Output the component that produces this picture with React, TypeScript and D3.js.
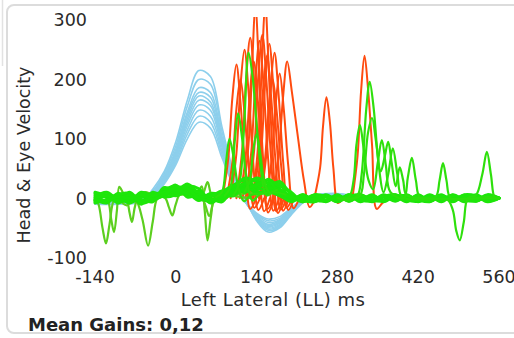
import React, { useEffect, useRef } from 'react'
import * as d3 from 'd3'

type Pt = [number, number]

// head velocity sampling times (ms)
const headT = [-140, -100, -60, -40, -20, 0, 20, 40, 60, 80, 100, 120, 140, 160, 180, 200, 220, 240, 280, 320, 360, 560]

// head impulses (blue)
const headTraces = [
  [-10, -10, -6, 15, 45, 95, 165, 215, 205, 120, 45, 0, -38, -57, -50, -28, -8, 4, 8, 2, 0, 0],
  [-9, -9, -5, 12, 42, 88, 155, 200, 192, 112, 40, -2, -36, -54, -48, -26, -6, 4, 7, 2, 0, 0],
  [-8, -8, -5, 10, 38, 82, 145, 186, 178, 104, 36, -3, -34, -52, -46, -25, -6, 3, 6, 1, 0, 0],
  [-8, -8, -4, 10, 36, 78, 140, 178, 170, 98, 34, -4, -33, -50, -44, -24, -5, 3, 6, 1, 0, 0],
  [-7, -7, -4, 8, 34, 75, 134, 172, 162, 94, 32, -5, -32, -48, -42, -22, -5, 4, 7, 2, 0, 0],
  [-7, -7, -3, 8, 32, 72, 128, 165, 156, 90, 30, -5, -31, -46, -40, -21, -4, 3, 6, 1, 0, 0],
  [-6, -6, -3, 7, 30, 68, 122, 157, 148, 86, 28, -6, -30, -44, -38, -20, -4, 3, 5, 1, 0, 0],
  [-6, -6, -3, 6, 28, 64, 115, 148, 138, 80, 26, -6, -28, -41, -36, -18, -3, 2, 5, 1, 0, 0],
  [-5, -5, -2, 5, 26, 60, 108, 138, 128, 74, 24, -6, -27, -38, -34, -17, -3, 2, 4, 1, 0, 0],
  [-5, -5, -2, 4, 24, 56, 100, 128, 118, 68, 22, -5, -25, -35, -31, -16, -3, 2, 4, 1, 0, 0],
]

// covert / overt saccades (orange)
const saccadeTraces: Pt[][] = [
  [[81, 0], [91, 68], [98, 169], [105, 225], [112, 162], [120, 56], [129, -18], [139, 0]],
  [[88, 0], [98, 60], [105, 150], [112, 200], [119, 144], [127, 50], [136, -16], [146, 0]],
  [[95, 0], [105, 75], [112, 188], [119, 250], [126, 180], [134, 62], [143, -20], [153, 0]],
  [[105, 0], [115, 81], [122, 203], [129, 270], [136, 194], [144, 68], [153, -22], [163, 0]],
  [[111, 0], [121, 69], [128, 172], [135, 230], [142, 166], [150, 58], [159, -18], [169, 0]],
  [[116, 0], [126, 90], [133, 240], [138, 330], [143, 240], [151, 70], [160, -24], [170, 0]],
  [[121, 0], [131, 80], [138, 199], [145, 265], [152, 191], [160, 66], [169, -21], [179, 0]],
  [[126, 0], [136, 83], [143, 206], [150, 275], [157, 198], [165, 69], [174, -22], [184, 0]],
  [[134, 0], [143, 95], [150, 245], [155, 330], [160, 240], [168, 72], [177, -25], [187, 0]],
  [[134, 0], [144, 72], [151, 180], [158, 240], [165, 173], [173, 60], [182, -19], [192, 0]],
  [[138, 0], [148, 78], [155, 195], [162, 260], [169, 187], [177, 65], [186, -21], [196, 0]],
  [[144, 0], [154, 60], [161, 150], [168, 200], [175, 144], [183, 50], [192, -16], [202, 0]],
  [[147, 0], [157, 74], [164, 184], [171, 245], [178, 176], [186, 61], [195, -20], [205, 0]],
  [[156, 0], [166, 63], [173, 158], [180, 210], [187, 151], [195, 53], [204, -17], [214, 0]],
  [[168, 0], [178, 70], [186, 172], [193, 230], [201, 180], [212, 100], [222, 30], [232, -15], [242, 0]],
  [[240, 0], [250, 51], [255, 120], [261, 170], [267, 128], [273, 51], [281, -8], [290, 0]],
  [[306, 0], [315, 72], [321, 180], [327, 240], [333, 185], [340, 90], [348, -18], [358, -8], [368, 0]],
]

// eye velocity sampling times (ms)
const eyeT = [-140, -120, -100, -80, -60, -40, -20, 0, 20, 40, 60, 80, 100, 120, 140, 160, 180, 200, 220, 240, 260, 280, 300, 320, 340, 360, 380, 400, 420, 440, 460, 480, 500, 520, 540, 560]

// eye velocity, traces staying near zero (green band)
const eyeBand = [
  [5, -6, 8, -4, 6, 2, 12, 8, 18, 4, -6, 10, 22, 30, 18, 12, 4, -4, 5, -5, 6, -3, 5, -6, 3, -5, 6, -3, 5, -5, 3, -6, 5, -3, 4, 0],
  [-4, 6, -8, 5, -5, 8, 4, 16, 10, -4, 6, -2, 12, 18, 34, 24, 10, 2, -6, 4, -3, 6, -5, 3, -6, 5, -3, 6, -5, 3, -6, 5, -3, 6, -3, 0],
  [8, 2, -4, 10, -8, -2, 14, 20, 6, 12, -8, 4, 8, 26, 14, 32, 16, -2, 6, -6, 4, -5, 3, -3, 6, -6, 4, -5, 3, -3, 6, -5, 3, -5, 4, 0],
  [-8, -2, 4, -6, 10, 4, 6, 10, 24, 8, 0, -6, 16, 10, 24, 20, 28, 6, -3, 3, -6, 4, -3, 6, -3, 3, -5, 4, -6, 4, -3, 3, -6, 4, -5, 0],
  [2, 10, -2, 2, -2, -6, 18, 12, 14, -2, 8, 6, 4, 20, 12, 8, 20, 10, -6, 6, 3, -6, 6, -5, 4, -3, 3, -6, 6, -5, 4, -3, 4, -3, 6, 0],
  [-2, -8, 6, 8, -10, 10, 2, 6, 20, 16, -4, 2, 18, 34, 28, 16, 6, -6, 4, -3, -5, 3, -5, 4, -5, 6, -4, 3, -3, 6, -3, 4, -5, 3, -3, 0],
  [10, 4, -6, -2, 4, -4, 8, 22, 2, 6, 4, 12, 10, 14, 20, 26, 12, 4, -4, -6, 3, -3, 6, -3, -5, 3, 6, -3, -5, 4, -5, 6, -3, -5, 3, 0],
  [-6, 4, 2, -8, 2, 6, 10, 4, 12, 10, -2, 0, 14, 22, 8, 14, 24, -4, 6, -4, 4, -6, 3, 6, -3, -5, 3, 4, -3, -6, 3, -3, 6, 4, -6, 0],
  [0, 4, -4, 6, -6, 4, 10, 14, 8, 2, 4, 8, 20, 24, 30, 18, 14, 0, 3, -2, 2, -4, 4, -2, 2, -3, 5, -4, 2, -2, 4, -2, 2, -4, 2, 0],
  [-3, -4, 3, 0, 6, -2, 6, 18, 16, 0, -4, 4, 10, 16, 22, 30, 8, 2, -2, 5, -4, 2, -2, 5, -4, 2, -2, 5, -4, 2, -2, 5, -4, 2, -2, 0],
]

// eye velocity, traces with saccades / noise
const eyeSpikes: Pt[][] = [
  [[70, 2], [80, 10], [87, 60], [93, 100], [100, 70], [108, 20], [118, -5], [130, 5], [150, 8]],
  [[85, 4], [95, 20], [102, 95], [108, 143], [115, 100], [123, 30], [133, -4], [145, 6], [160, 10]],
  [[100, 5], [110, 25], [118, 115], [126, 245], [133, 205], [140, 125], [148, 45], [157, 5], [170, 10], [190, 6]],
  [[118, 8], [128, 30], [134, 80], [140, 108], [146, 78], [153, 30], [162, 10], [175, 14]],
  [[280, 0], [300, -3], [315, 5], [322, 40], [330, 150], [336, 196], [343, 150], [351, 60], [360, 10], [368, 40], [376, 84], [384, 40], [392, 2], [420, -2], [450, 2], [457, 30], [463, 59], [469, 30], [476, 0], [500, -2], [540, 2], [560, 0]],
  [[280, 0], [300, 2], [308, 30], [313, 90], [319, 123], [326, 80], [334, 30], [342, 15], [350, 60], [357, 98], [364, 55], [372, 10], [395, 0], [402, 35], [409, 68], [416, 30], [424, 0], [470, -2], [480, -20], [486, -55], [492, -71], [499, -40], [506, 0], [520, 5], [531, 40], [539, 78], [546, 40], [553, 0], [560, 0]],
  [[290, 0], [318, 3], [326, 40], [333, 110], [340, 135], [347, 95], [355, 45], [362, 70], [368, 95], [374, 60], [381, 20], [388, 52], [394, 30], [400, 5], [430, 0], [560, 0]],
]

const eyeNoise: Pt[][] = [
  [[-140, 0], [-134, -10], [-127, -50], [-121, -76], [-115, -45], [-108, -5], [-98, 8], [-88, 2], [-78, 0], [-68, -5], [-58, -35], [-48, -80], [-40, -40], [-32, 0], [-20, 8], [-5, 10], [10, 6], [25, 8], [38, 10], [45, 20], [50, -20], [55, -71], [61, -30], [68, 5], [80, 8], [100, 4], [130, 0]],
  [[-140, 2], [-125, 6], [-117, -5], [-112, -35], [-107, -57], [-102, -20], [-98, 19], [-92, 10], [-84, -5], [-80, -25], [-76, -40], [-71, -15], [-64, 5], [-50, 8], [-30, 6], [-18, 0], [-12, -15], [-6, -29], [0, -10], [8, 8], [25, 12], [45, 5], [55, 27], [62, 5], [75, -4], [95, 4], [120, 8]],
  [[-140, -4], [-120, 6], [-100, -2], [-85, -12], [-70, 4], [-50, 10], [-30, 0], [-10, 12], [10, 18], [30, 10], [48, -5], [58, -30], [66, -5], [80, 10], [110, 14], [140, 6]],
]

const xTicks = [-140, 0, 140, 280, 420, 560]
const yTicks = [-100, 0, 100, 200, 300]
const meanGain = '0,12'

const W = 514
const H = 338

const HeadImpulseChart = () => {
  const ref = useRef<SVGSVGElement>(null)

  useEffect(() => {
    const svg = d3.select(ref.current)
    svg.selectAll('*').remove()

    const x = d3.scaleLinear().domain([-140, 560]).range([95, 499])
    const y = d3.scaleLinear().domain([-100, 300]).range([257.6, 20])

    // panel frame
    svg.append('line').attr('x1', 2.5).attr('x2', 2.5).attr('y1', 0).attr('y2', 66)
      .attr('stroke', '#e2e2e2').attr('stroke-width', 1.5)
    svg.append('rect').attr('x', 7).attr('y', 5).attr('width', 530).attr('height', 328).attr('rx', 7)
      .attr('fill', '#fff').attr('stroke', '#dcdcdc').attr('stroke-width', 2)

    svg.append('clipPath').attr('id', 'plotClip').append('rect')
      .attr('x', 88).attr('y', 17).attr('width', 420).attr('height', 246)

    const line = d3.line<Pt>().x((d) => x(d[0])).y((d) => y(d[1])).curve(d3.curveCatmullRom.alpha(0.5))
    const plot = svg.append('g').attr('clip-path', 'url(#plotClip)').attr('fill', 'none')
      .attr('stroke-linejoin', 'round').attr('stroke-linecap', 'round')

    headTraces.forEach((vals) => {
      plot.append('path').attr('d', line(headT.map((t, i) => [t, vals[i]] as Pt)))
        .attr('stroke', '#8dcfec').attr('stroke-width', 1.6)
    })
    saccadeTraces.forEach((pts) => {
      plot.append('path').attr('d', line(pts)).attr('stroke', '#ff4b0f').attr('stroke-width', 2)
    })
    eyeNoise.forEach((pts) => {
      plot.append('path').attr('d', line(pts)).attr('stroke', '#5ccf1f').attr('stroke-width', 2.2)
    })
    eyeBand.forEach((vals) => {
      plot.append('path').attr('d', line(eyeT.map((t, i) => [t, vals[i]] as Pt)))
        .attr('stroke', '#1ee60a').attr('stroke-width', 3)
    })
    eyeSpikes.forEach((pts) => {
      plot.append('path').attr('d', line(pts)).attr('stroke', '#2ee00c').attr('stroke-width', 2.2)
    })

    const font = 'DejaVu Sans, Verdana, sans-serif'

    svg.append('g').selectAll('text').data(yTicks).join('text')
      .attr('x', 87).attr('y', (d) => y(d)).attr('dy', '0.36em')
      .attr('text-anchor', 'end').attr('font-family', font).attr('font-size', 17.5).attr('fill', '#2a2a2a')
      .text((d) => d)

    svg.append('g').selectAll('text').data(xTicks).join('text')
      .attr('x', (d) => x(d)).attr('y', 283)
      .attr('text-anchor', 'middle').attr('font-family', font).attr('font-size', 17.5).attr('fill', '#2a2a2a')
      .text((d) => d)

    svg.append('text').attr('transform', 'translate(30,155) rotate(-90)')
      .attr('text-anchor', 'middle').attr('font-family', font).attr('font-size', 17.5).attr('fill', '#2a2a2a')
      .text('Head & Eye Velocity')

    svg.append('text').attr('x', 273).attr('y', 306)
      .attr('text-anchor', 'middle').attr('font-family', font).attr('font-size', 18)
      .attr('letter-spacing', 0.5).attr('fill', '#2a2a2a')
      .text('Left Lateral (LL) ms')

    svg.append('text').attr('x', 28).attr('y', 331)
      .attr('font-family', font).attr('font-size', 18).attr('font-weight', 'bold').attr('fill', '#222')
      .text(`Mean Gains: ${meanGain}`)
  }, [])

  return <svg ref={ref} width={W} height={H} style={{ position: 'absolute', left: 0, top: 0 }} />
}

export default function App() {
  return <HeadImpulseChart />
}
